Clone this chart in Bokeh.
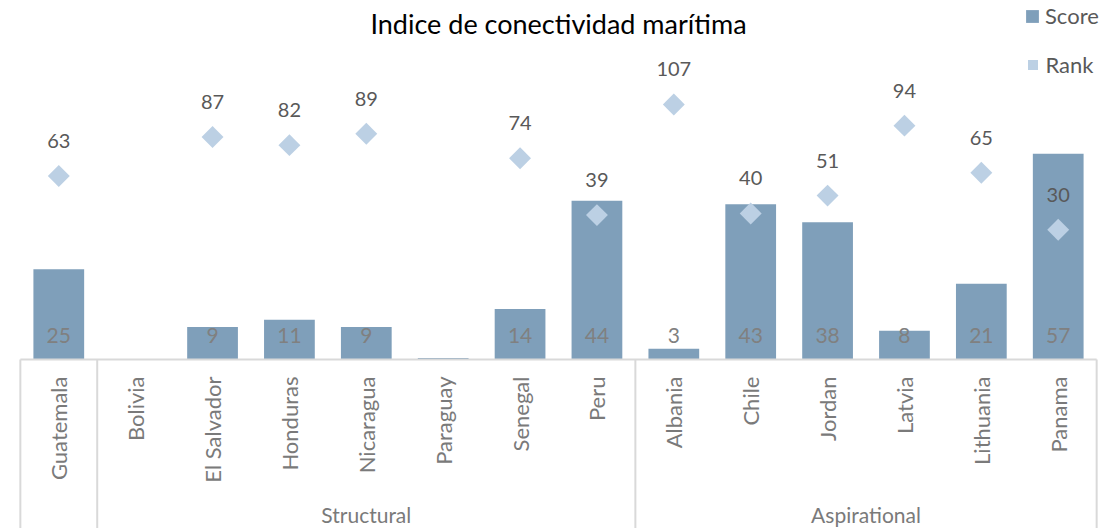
import math
from bokeh.plotting import figure
from bokeh.models import Range1d, ColumnDataSource, Legend, LegendItem, Label
from bokeh.embed import file_html
from bokeh.resources import INLINE
from bokeh.core.properties import value

# ---- data ----
countries = ["Guatemala", "Bolivia", "El Salvador", "Honduras", "Nicaragua", "Paraguay",
             "Senegal", "Peru", "Albania", "Chile", "Jordan", "Latvia", "Lithuania", "Panama"]
groups = ["", "Structural", "Structural", "Structural", "Structural", "Structural",
          "Structural", "Structural", "Aspirational", "Aspirational", "Aspirational",
          "Aspirational", "Aspirational", "Aspirational"]
scores = [25, 0, 9, 11, 9, 0.4, 14, 44, 3, 43, 38, 8, 21, 57]
score_labels = ["25", "", "9", "11", "9", "", "14", "44", "3", "43", "38", "8", "21", "57"]
ranks = [63, float("nan"), 87, 82, 89, float("nan"), 74, 39, 107, 40, 51, 94, 65, 30]
title_text = "Indice de conectividad marítima"

# ---- styles ----
FONT = "Lato"
BAR_COLOR = "#7f9fba"
DIAMOND_COLOR = "#bcd0e4"
SEP_COLOR = "#d9d9d9"

n = len(countries)
xs = list(range(n))
rank_labels = ["" if math.isnan(r) else str(int(r)) for r in ranks]

src = ColumnDataSource(dict(x=xs, country=countries, score=scores, score_label=score_labels,
                            rank=ranks, rank_label=rank_labels))

y_start, y_end = -46.81, 99.45
p = figure(width=1108, height=528, output_backend="svg", toolbar_location=None,
           x_range=Range1d(-0.55, n - 1 + 0.55), y_range=Range1d(y_start, y_end),
           min_border_left=16, min_border_right=8, min_border_top=0, min_border_bottom=0)
p.extra_y_ranges = {"rank": Range1d(-153.6, 170.9)}
p.xaxis.visible = False
p.yaxis.visible = False
p.xgrid.visible = False
p.ygrid.visible = False
p.outline_line_color = None

bars = p.vbar(x="x", top="score", bottom=0, width=0.66, source=src,
              fill_color=BAR_COLOR, line_color=None)

# separators of the two-level category axis
bounds = [-0.5] + [i - 0.5 for i in range(1, n) if groups[i] != groups[i - 1]] + [n - 0.5]
p.segment(x0=bounds, x1=bounds, y0=[0] * len(bounds), y1=[y_start] * len(bounds),
          line_color=SEP_COLOR, line_width=2)
p.segment(x0=[-0.5], x1=[n - 0.5], y0=[0], y1=[0], line_color=SEP_COLOR, line_width=2)

diamonds = p.scatter(x="x", y="rank", marker="square", angle=math.pi / 4, size=15.5,
                     source=src, fill_color=DIAMOND_COLOR, line_color=None, y_range_name="rank")

# value labels
p.text(x="x", y=0, text="score_label", source=src, y_offset=-24,
       text_align="center", text_baseline="middle", text_font=value(FONT),
       text_font_size="21px", text_color="#808080")
p.text(x="x", y="rank", text="rank_label", source=src, y_offset=-35, y_range_name="rank",
       text_align="center", text_baseline="middle", text_font=value(FONT),
       text_font_size="20px", text_color="#595959")

# category labels
p.text(x="x", y=0, text="country", source=src, angle=math.pi / 2, y_offset=17,
       text_align="right", text_baseline="middle", text_font=value(FONT),
       text_font_size="22px", text_color="#7a7a7a")

# group labels
gnames, gx = [], []
for g in dict.fromkeys(groups):
    if g:
        idx = [i for i, gg in enumerate(groups) if gg == g]
        gnames.append(g)
        gx.append(sum(idx) / len(idx))
p.text(x=gx, y=[y_start] * len(gx), text=gnames, y_offset=-14,
       text_align="center", text_baseline="middle", text_font=value(FONT),
       text_font_size="21px", text_color="#7a7a7a")

# title
p.add_layout(Label(x=(n - 1) / 2, y=y_end, y_offset=-23, text=title_text,
                   text_align="center", text_baseline="middle", text_font=FONT,
                   text_font_size="27px", text_color="#000000"))

# legends
leg_score = Legend(items=[LegendItem(label="Score", renderers=[bars])], location=(1008, 499),
                   glyph_width=16, glyph_height=16, label_standoff=5, padding=0, margin=0,
                   border_line_color=None, background_fill_alpha=0,
                   label_text_font=FONT, label_text_font_size="22px", label_text_color="#595959")
leg_rank = Legend(items=[LegendItem(label="Rank", renderers=[diamonds])], location=(1003.5, 450),
                  glyph_width=25, glyph_height=25, label_standoff=1, padding=0, margin=0,
                  border_line_color=None, background_fill_alpha=0,
                  label_text_font=FONT, label_text_font_size="22px", label_text_color="#595959")
p.add_layout(leg_score)
p.add_layout(leg_rank)

open("out.html", "w").write(file_html(p, INLINE))
